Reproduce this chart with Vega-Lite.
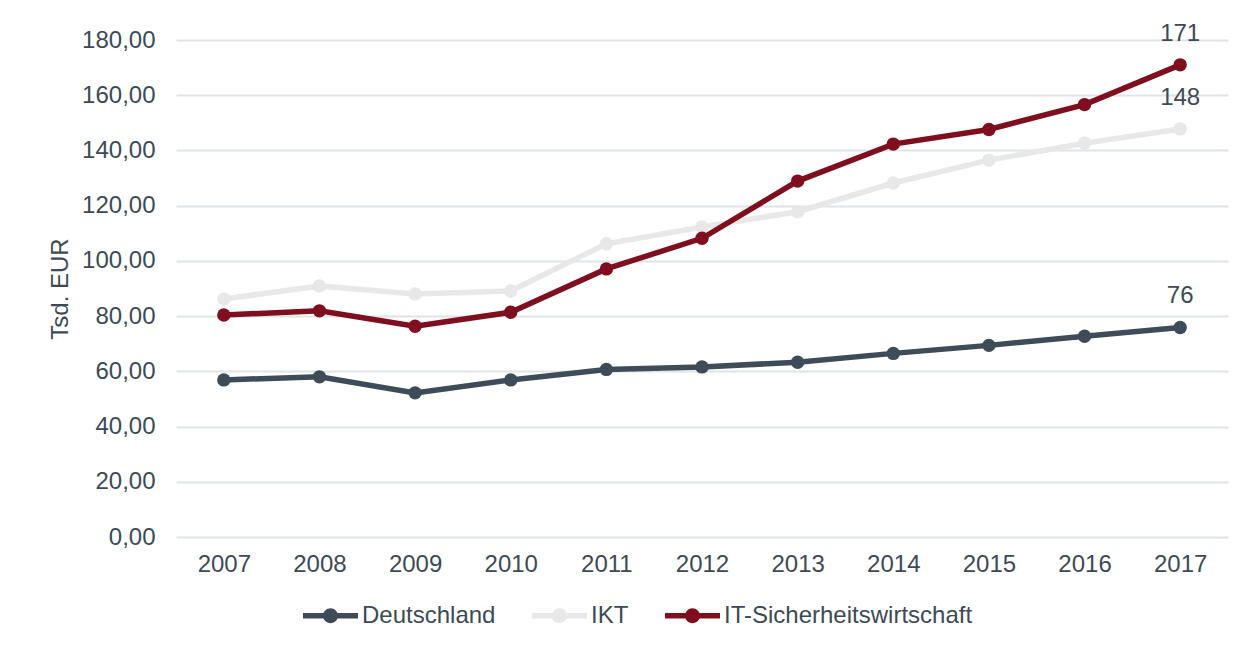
{
  "$schema": "https://vega.github.io/schema/vega-lite/v6.json",
  "autosize": "none",
  "width": 1052,
  "height": 497,
  "padding": {"left": 176, "top": 40, "right": 27, "bottom": 109},
  "background": "white",
  "config": {
    "view": {"stroke": null},
    "font": "Liberation Sans",
    "axis": {"labelFont": "Liberation Sans", "titleFont": "Liberation Sans", "labelColor": "#3d4a56", "titleColor": "#3d4a56"},
    "legend": {"labelFont": "Liberation Sans"}
  },
  "data": {
    "values": [
      {"jahr": "2007", "serie": "Deutschland", "wert": 56.9},
      {"jahr": "2008", "serie": "Deutschland", "wert": 58.0},
      {"jahr": "2009", "serie": "Deutschland", "wert": 52.2},
      {"jahr": "2010", "serie": "Deutschland", "wert": 56.9},
      {"jahr": "2011", "serie": "Deutschland", "wert": 60.7},
      {"jahr": "2012", "serie": "Deutschland", "wert": 61.6},
      {"jahr": "2013", "serie": "Deutschland", "wert": 63.3},
      {"jahr": "2014", "serie": "Deutschland", "wert": 66.5},
      {"jahr": "2015", "serie": "Deutschland", "wert": 69.4},
      {"jahr": "2016", "serie": "Deutschland", "wert": 72.7},
      {"jahr": "2017", "serie": "Deutschland", "wert": 75.9},
      {"jahr": "2007", "serie": "IKT", "wert": 86.2},
      {"jahr": "2008", "serie": "IKT", "wert": 90.9},
      {"jahr": "2009", "serie": "IKT", "wert": 88.0},
      {"jahr": "2010", "serie": "IKT", "wert": 89.1},
      {"jahr": "2011", "serie": "IKT", "wert": 106.2},
      {"jahr": "2012", "serie": "IKT", "wert": 112.3},
      {"jahr": "2013", "serie": "IKT", "wert": 117.8},
      {"jahr": "2014", "serie": "IKT", "wert": 128.2},
      {"jahr": "2015", "serie": "IKT", "wert": 136.5},
      {"jahr": "2016", "serie": "IKT", "wert": 142.6},
      {"jahr": "2017", "serie": "IKT", "wert": 147.8},
      {"jahr": "2007", "serie": "IT-Sicherheitswirtschaft", "wert": 80.4},
      {"jahr": "2008", "serie": "IT-Sicherheitswirtschaft", "wert": 81.9},
      {"jahr": "2009", "serie": "IT-Sicherheitswirtschaft", "wert": 76.3},
      {"jahr": "2010", "serie": "IT-Sicherheitswirtschaft", "wert": 81.4},
      {"jahr": "2011", "serie": "IT-Sicherheitswirtschaft", "wert": 97.1},
      {"jahr": "2012", "serie": "IT-Sicherheitswirtschaft", "wert": 108.2},
      {"jahr": "2013", "serie": "IT-Sicherheitswirtschaft", "wert": 128.9},
      {"jahr": "2014", "serie": "IT-Sicherheitswirtschaft", "wert": 142.3},
      {"jahr": "2015", "serie": "IT-Sicherheitswirtschaft", "wert": 147.6},
      {"jahr": "2016", "serie": "IT-Sicherheitswirtschaft", "wert": 156.6},
      {"jahr": "2017", "serie": "IT-Sicherheitswirtschaft", "wert": 171.0}
    ]
  },
  "encoding": {
    "x": {
      "field": "jahr", "type": "ordinal",
      "scale": {"type": "point", "padding": 0.5},
      "axis": {"title": null, "labelAngle": 0, "domain": false, "ticks": false, "grid": false, "labelFontSize": 24, "labelPadding": 15}
    },
    "y": {
      "field": "wert", "type": "quantitative",
      "scale": {"domain": [0, 180], "nice": false},
      "axis": {
        "title": "Tsd. EUR", "titleFontSize": 24, "titleFontWeight": "normal", "titlePadding": 9,
        "values": [0, 20, 40, 60, 80, 100, 120, 140, 160, 180],
        "labelExpr": "replace(format(datum.value, '.2f'), '.', ',')",
        "labelFontSize": 24, "labelPadding": 21,
        "domain": false, "ticks": false,
        "grid": true, "gridColor": "#dfe4e8", "gridWidth": 2
      }
    },
    "color": {
      "field": "serie", "type": "nominal",
      "scale": {"domain": ["Deutschland", "IKT", "IT-Sicherheitswirtschaft"], "range": ["#3e4c59", "#e8e8e8", "#7f0f1e"]},
      "legend": {
        "title": null, "orient": "none", "direction": "horizontal",
        "legendX": 127, "legendY": 548,
        "symbolType": "M-1,-0.1H1V0.1H-1Z M-0.27,0A0.27,0.27,0,1,1,0.27,0A0.27,0.27,0,1,1,-0.27,0Z",
        "symbolSize": 3025,
        "labelFontSize": 24, "labelColor": "#3d4a56", "labelOffset": 4, "labelLimit": 0,
        "columnPadding": 36,
        "encode": {
          "symbols": {"update": {"fill": {"scale": "color", "field": "value"}, "stroke": {"value": "transparent"}, "strokeWidth": {"value": 0}, "opacity": {"value": 1}}}
        }
      }
    }
  },
  "layer": [
    {
      "mark": {"type": "line", "strokeWidth": 5.5, "point": {"filled": true, "size": 180, "opacity": 1}}
    },
    {
      "transform": [{"filter": "datum.jahr == '2017'"}],
      "mark": {"type": "text", "fontSize": 24, "dy": -31, "baseline": "middle", "color": "#3d4a56"},
      "encoding": {
        "text": {"field": "wert", "type": "quantitative", "format": ".0f"},
        "color": {"value": "#3d4a56"}
      }
    }
  ]
}
